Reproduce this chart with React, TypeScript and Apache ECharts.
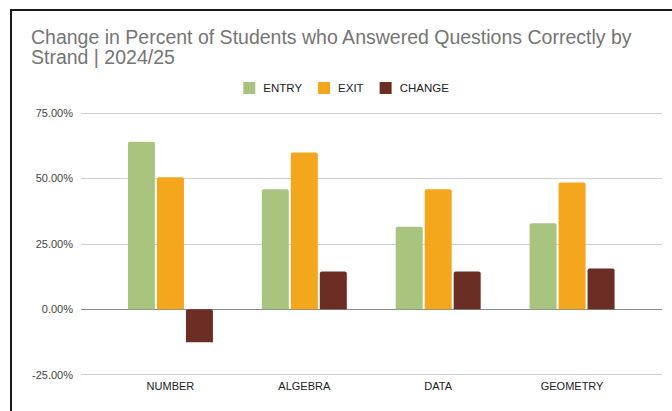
import React, { useEffect, useRef } from "react";
import * as echarts from "echarts";

const categories = ["NUMBER", "ALGEBRA", "DATA", "GEOMETRY"];
const entryValues = [64.0, 45.8, 31.5, 32.8];
const exitValues = [50.4, 59.9, 45.8, 48.4];
const changeValues = [-12.7, 14.4, 14.4, 15.5];
const yTicks = [-25, 0, 25, 50, 75];
const seriesNames = ["ENTRY", "EXIT", "CHANGE"];
const colors = ["#a8c47f", "#f4a61d", "#6b2d24"];

const FONT = "'Liberation Sans', Arial, Helvetica, sans-serif";

export default function App() {
  const ref = useRef<HTMLDivElement>(null);
  useEffect(() => {
    if (!ref.current) return;
    const chart = echarts.init(ref.current, undefined, { renderer: "svg" });
    const yMin = yTicks[0];
    const yMax = yTicks[yTicks.length - 1];
    const step = yTicks[1] - yTicks[0];
    const gridTop = 113;
    const gridBottom = 36.5;
    const bar = (name: string, data: number[], color: string) => ({
      type: "bar",
      name,
      data,
      xAxisIndex: 1,
      yAxisIndex: 1,
      barWidth: 27,
      barGap: "7.4%",
      itemStyle: { color, borderRadius: [2, 2, 0, 0] },
    });
    chart.setOption({
      animation: false,
      backgroundColor: "#ffffff",
      textStyle: { fontFamily: FONT },
      title: {
        text: "Change in Percent of Students who Answered Questions Correctly by\nStrand | 2024/25",
        left: 26,
        top: 22,
        textStyle: {
          fontFamily: FONT,
          fontSize: 19.5,
          fontWeight: "normal",
          color: "#757575",
          lineHeight: 20,
        },
      },
      legend: {
        data: seriesNames,
        left: 238.3,
        top: 77,
        itemWidth: 12,
        itemHeight: 12,
        itemGap: 16,
        icon: "rect",
        textStyle: {
          fontFamily: FONT,
          fontSize: 11.5,
          color: "#222222",
          padding: [0, 0, 0, 3],
        },
      },
      grid: [
        { left: 81, right: 10, top: gridTop, bottom: gridBottom },
        { left: 103.5, right: 33, top: gridTop, bottom: gridBottom },
      ],
      xAxis: [
        {
          type: "category",
          gridIndex: 0,
          data: [""],
          show: false,
        },
        {
          type: "category",
          gridIndex: 1,
          data: categories,
          axisLine: { show: false },
          axisTick: { show: false },
          axisLabel: {
            fontFamily: FONT,
            fontSize: 11,
            color: "#222222",
            margin: 6,
          },
        },
      ],
      yAxis: [
        {
          type: "value",
          gridIndex: 0,
          min: yMin,
          max: yMax,
          interval: step,
          axisLine: { show: false },
          axisTick: { show: false },
          axisLabel: {
            fontFamily: FONT,
            fontSize: 11,
            color: "#444444",
            margin: 8,
            formatter: (v: number) => v.toFixed(2) + "%",
          },
          splitLine: {
            show: true,
            showMinLine: true,
            showMaxLine: true,
            lineStyle: {
              color: yTicks.map((t) => (t === 0 ? "#8a8a8a" : "#d0d0d0")),
              width: 1,
            },
          },
        },
        {
          type: "value",
          gridIndex: 1,
          min: yMin,
          max: yMax,
          interval: step,
          show: false,
          splitLine: { show: false },
        },
      ],
      series: [
        bar(seriesNames[0], entryValues, colors[0]),
        bar(seriesNames[1], exitValues, colors[1]),
        bar(seriesNames[2], changeValues, colors[2]),
      ],
      graphic: [
        {
          type: "polyline",
          shape: { points: [[11, 411], [11, 10], [672, 10]] },
          style: { stroke: "#1a1a1a", lineWidth: 2, fill: "none" },
          z: 100,
        },
      ],
    });
    return () => chart.dispose();
  }, []);
  return (
    <div style={{ position: "fixed", left: 0, top: 0, width: 672, height: 411, background: "#fff" }}>
      <div ref={ref} style={{ width: 672, height: 411 }} />
    </div>
  );
}
